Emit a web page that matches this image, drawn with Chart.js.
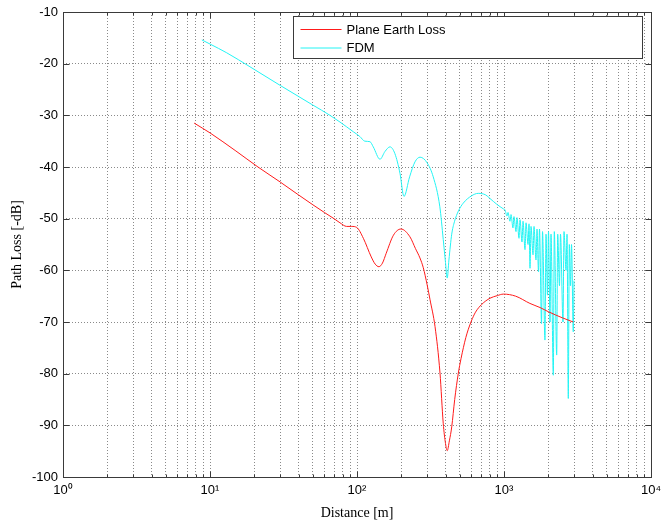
<!DOCTYPE html>
<html>
<head>
<meta charset="utf-8">
<script src="https://cdn.jsdelivr.net/npm/chart.js@4/dist/chart.umd.min.js"></script>
<style>
  html, body { margin: 0; padding: 0; background: #ffffff; }
  canvas { display: block; }
</style>
</head>
<body>
<canvas id="c" width="662" height="527"></canvas>
<script>
// ---- data ----
const seriesNames = ['Plane Earth Loss', 'FDM'];

const peDist = [7.8, 10, 15, 21.2, 30, 40, 50, 60, 69.8, 76.6, 85, 92, 99.6, 110.5, 125, 133, 141, 149, 158, 177, 199, 229, 250, 268, 282.5, 300, 314, 339.5, 367, 386, 400, 411, 425, 441, 462, 489, 510, 530, 550, 572, 600, 640, 705, 803, 900, 990, 1200, 1500, 1758, 2000, 2500, 2960];
const peLoss = [-31.5, -33.4, -36.9, -40.0, -42.9, -45.4, -47.3, -48.8, -50.0, -50.8, -51.5, -51.5, -51.7, -53.8, -57.4, -58.8, -59.3, -58.6, -56.7, -53.2, -52.0, -53.5, -55.8, -57.6, -59.5, -62.8, -65.7, -70.9, -79.9, -89.6, -93.5, -94.9, -93.0, -90.3, -85.0, -79.9, -77.1, -74.9, -73.0, -71.4, -69.8, -68.1, -66.6, -65.4, -64.9, -64.6, -65.0, -66.4, -67.2, -68.0, -69.2, -70.0];

const fdmDist = [8.8, 10, 13, 18.7, 30, 50, 65.5, 76.6, 94.6, 104.6, 113, 122.5, 129, 143.4, 155, 167.6, 181, 196, 208.7, 228, 248, 268.5, 300, 330, 366, 386, 400, 411, 422, 441, 460, 490, 528, 600, 668, 750, 803, 892, 990,
  1016, 1048, 1065, 1098, 1116, 1151, 1169, 1207, 1226, 1265, 1285, 1326, 1347, 1390, 1412, 1457, 1480, 1503, 1527, 1576, 1600, 1651, 1677, 1717, 1744, 1800, 1828, 1900, 1931, 1976, 2008, 2056, 2088, 2165, 2199, 2283, 2319, 2385, 2423, 2520, 2560, 2642, 2684, 2738, 2782, 2835, 2880, 2960, 2993];
const fdmLoss = [-15.4, -16.2, -17.9, -20.6, -24.2, -28.0, -30.0, -31.3, -33.2, -34.1, -35.0, -35.1, -36.1, -38.5, -37.0, -36.1, -37.4, -41.2, -45.7, -41.9, -39.0, -38.1, -39.2, -41.9, -47.7, -54.0, -58.5, -61.5, -58.0, -53.0, -50.6, -48.5, -47.0, -45.6, -45.1, -45.4, -46.1, -47.2, -48.1,
  -48.3, -49.5, -48.8, -50.5, -49.2, -51.8, -49.6, -52.5, -49.8, -53.8, -50.2, -54.5, -50.5, -56.0, -50.8, -55.0, -51.0, -59.6, -51.5, -57.0, -51.5, -58.0, -52.0, -60.3, -52.0, -70.3, -52.5, -73.5, -53.0, -64.8, -52.5, -70.0, -53.0, -80.3, -52.5, -76.4, -53.0, -63.0, -53.0, -70.0, -52.5, -60.0, -53.0, -84.8, -55.0, -63.0, -55.0, -71.9, -62.0];

const xDecades = [1, 10, 100, 1000, 10000];
const xDecadeLabels = ['10\u2070', '10\u00B9', '10\u00B2', '10\u00B3', '10\u2074'];
const xMinorSteps = [2, 3, 4, 5, 6, 7, 8, 9];
const yTicks = [-100, -90, -80, -70, -60, -50, -40, -30, -20, -10];
const xTitle = 'Distance [m]';
const yTitle = 'Path Loss [-dB]';

// ---- build tick list for the log axis ----
const xTickValues = [];
xDecades.forEach((d, i) => {
  xTickValues.push(d);
  if (i < xDecades.length - 1) xMinorSteps.forEach(m => xTickValues.push(d * m));
});

const toXY = (xs, ys) => xs.map((x, i) => ({ x: x, y: ys[i] }));

Chart.defaults.font.family = "'Liberation Sans', Arial, sans-serif";
Chart.defaults.color = '#000000';

const axisColor = '#3a3a3a';
const gridColor = '#8a8a8a';
const al = p => Math.round(p) + 0.5;

const frameAndTicks = {
  id: 'frameAndTicks',
  beforeDatasetsDraw(chart) {
    const { ctx, chartArea: a, scales } = chart;
    const L = al(a.left), R = al(a.right), T = al(a.top), B = al(a.bottom);
    ctx.save();
    ctx.strokeStyle = axisColor;
    ctx.lineWidth = 1;
    ctx.beginPath();
    scales.x.ticks.forEach(t => {
      const px = al(scales.x.getPixelForValue(t.value));
      const len = xDecades.includes(t.value) ? 6 : 3;
      ctx.moveTo(px, B); ctx.lineTo(px, B - len);
      ctx.moveTo(px, T); ctx.lineTo(px, T + len);
    });
    scales.y.ticks.forEach(t => {
      const py = al(scales.y.getPixelForValue(t.value));
      ctx.moveTo(L, py); ctx.lineTo(L + 6, py);
      ctx.moveTo(R, py); ctx.lineTo(R - 6, py);
    });
    ctx.stroke();
    ctx.strokeRect(L, T, R - L, B - T);
    ctx.restore();
  }
};

const boxLegend = {
  id: 'boxLegend',
  afterDatasetsDraw(chart) {
    const { ctx, chartArea: a } = chart;
    const right = Math.round(a.right) - 9 + 0.5;
    const left = Math.round(a.left) + 230 + 0.5;
    const top = Math.round(a.top) + 4 + 0.5;
    const rowH = 18.5;
    const n = chart.data.datasets.length;
    const bottom = top + 5 + rowH * n;
    ctx.save();
    ctx.fillStyle = '#ffffff';
    ctx.fillRect(left, top, right - left, bottom - top);
    ctx.strokeStyle = axisColor;
    ctx.lineWidth = 1;
    ctx.strokeRect(left, top, right - left, bottom - top);
    ctx.font = "13px 'Liberation Sans', Arial, sans-serif";
    ctx.textBaseline = 'middle';
    ctx.textAlign = 'left';
    chart.data.datasets.forEach((ds, i) => {
      const y = top + 13 + i * rowH;
      ctx.strokeStyle = ds.borderColor;
      ctx.lineWidth = 1;
      ctx.beginPath();
      ctx.moveTo(left + 7, y); ctx.lineTo(left + 48, y);
      ctx.stroke();
      ctx.fillStyle = '#000000';
      ctx.fillText(ds.label, left + 53, y + 0.5);
    });
    ctx.restore();
  }
};

new Chart(document.getElementById('c'), {
  type: 'scatter',
  data: {
    datasets: [
      {
        label: seriesNames[0],
        data: toXY(peDist, peLoss),
        showLine: true,
        borderColor: '#ff1a1a',
        borderWidth: 1,
        pointRadius: 0,
        cubicInterpolationMode: 'monotone'
      },
      {
        label: seriesNames[1],
        data: toXY(fdmDist, fdmLoss),
        showLine: true,
        borderColor: '#22f4f4',
        borderWidth: 1,
        pointRadius: 0,
        cubicInterpolationMode: 'monotone'
      }
    ]
  },
  options: {
    responsive: false,
    devicePixelRatio: 1,
    animation: false,
    layout: { padding: { top: 12, right: 11, left: 0, bottom: 0 } },
    plugins: { legend: { display: false }, tooltip: { enabled: false } },
    scales: {
      x: {
        type: 'logarithmic',
        min: 1,
        max: 10000,
        afterBuildTicks: s => { s.ticks = xTickValues.map(v => ({ value: v, major: xDecades.includes(v) })); },
        afterFit: s => { s.height = 50; s.paddingLeft = 0; s.paddingRight = 0; },
        ticks: {
          autoSkip: false,
          maxRotation: 0,
          minRotation: 0,
          padding: 6,
          font: { size: 13 },
          color: '#000000',
          callback: v => { const i = xDecades.indexOf(v); return i >= 0 ? xDecadeLabels[i] : ''; }
        },
        grid: { color: gridColor, lineWidth: 1, drawTicks: false },
        border: { display: false, dash: [1, 2] },
        title: {
          display: true,
          text: xTitle,
          font: { family: "'Liberation Serif', 'Times New Roman', serif", size: 14 },
          color: '#000000',
          padding: { top: 0, bottom: 5 }
        }
      },
      y: {
        type: 'linear',
        min: -100,
        max: -10,
        afterBuildTicks: s => { s.ticks = yTicks.map(v => ({ value: v })); },
        afterFit: s => { s.width = 63; s.paddingTop = 0; s.paddingBottom = 0; },
        ticks: { padding: 5, font: { size: 13 }, color: '#000000' },
        grid: { color: gridColor, lineWidth: 1, drawTicks: false },
        border: { display: false, dash: [1, 2] },
        title: {
          display: true,
          text: yTitle,
          font: { family: "'Liberation Serif', 'Times New Roman', serif", size: 14 },
          color: '#000000',
          padding: { top: 9, bottom: 0 }
        }
      }
    }
  },
  plugins: [frameAndTicks, boxLegend]
});
</script>
</body>
</html>
